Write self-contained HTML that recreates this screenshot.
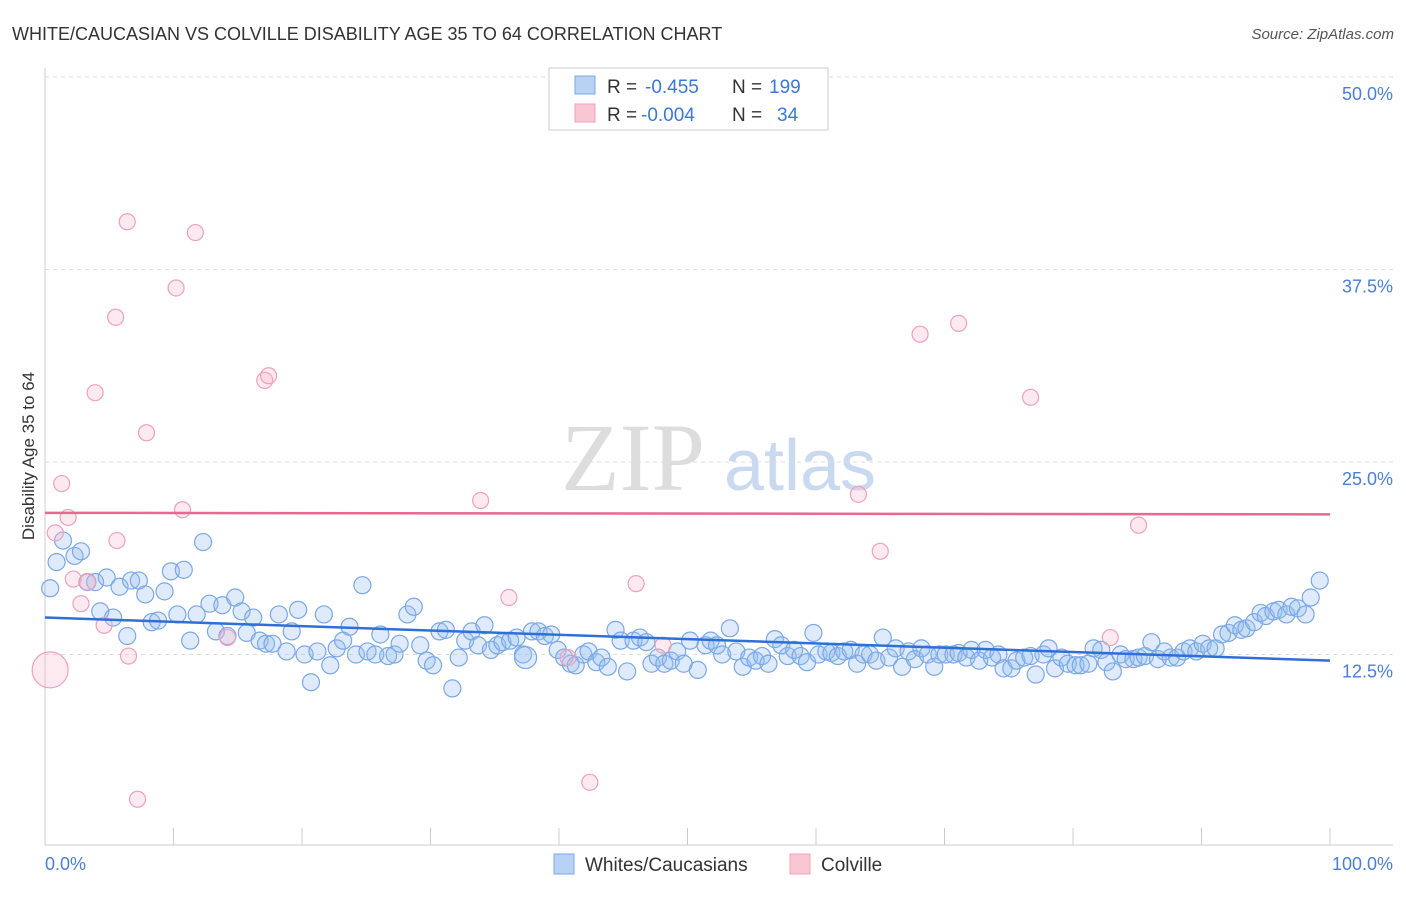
<!DOCTYPE html>
<html><head><meta charset="utf-8"><style>
body{margin:0;background:#fff;font-family:"Liberation Sans",sans-serif}
svg text{font-family:"Liberation Sans",sans-serif}
</style></head><body>
<svg id="chart" width="1406" height="892" xmlns="http://www.w3.org/2000/svg">
<text x="12" y="40" font-size="18" fill="#333">WHITE/CAUCASIAN VS COLVILLE DISABILITY AGE 35 TO 64 CORRELATION CHART</text>
<text x="1394" y="39" font-size="15" fill="#555" text-anchor="end" font-style="italic">Source: ZipAtlas.com</text>
<g>
<text x="633" y="490" font-size="96" fill="#ddd" text-anchor="middle" font-family="Liberation Serif" style="font-family:'Liberation Serif',serif">ZIP</text>
<text x="800" y="490" font-size="72" fill="#c9daf0" text-anchor="middle">atlas</text>
</g>
<g id="grid"></g>
<line x1="45" y1="68" x2="45" y2="845" stroke="#ccc"/>
<line x1="45" y1="845" x2="1393" y2="845" stroke="#ccc"/>
<g id="xticks"></g>
<text x="45" y="870" font-size="18" fill="#4a7fd4">0.0%</text>
<text x="1393" y="870" font-size="18" fill="#4a7fd4" text-anchor="end">100.0%</text>
<text transform="translate(34,456) rotate(-90)" font-size="17" fill="#333" text-anchor="middle">Disability Age 35 to 64</text>
<g id="pts"></g>
<g id="trends"></g>
<g>
<rect x="549" y="68" width="279" height="62" fill="#fff" stroke="#ccc"/>
<rect x="575" y="76" width="20" height="18" fill="#b8d2f5" stroke="#7aa8e6"/>
<rect x="575" y="104" width="20" height="18" fill="#f9c6d4" stroke="#f0a0b8"/>
<text x="607" y="93" font-size="19" fill="#333">R = <tspan x="645" fill="#3a78d8">-0.455</tspan><tspan x="732">N = </tspan><tspan x="769" fill="#3a78d8">199</tspan></text>
<text x="607" y="121" font-size="19" fill="#333">R = <tspan x="641" fill="#3a78d8">-0.004</tspan><tspan x="732">N = </tspan><tspan x="777" fill="#3a78d8">34</tspan></text>
</g>
<g>
<rect x="554" y="854" width="20" height="20" fill="#b8d2f5" stroke="#7aa8e6"/>
<text x="585" y="871" font-size="19" fill="#333">Whites/Caucasians</text>
<rect x="790" y="854" width="20" height="20" fill="#f9c6d4" stroke="#f0a0b8"/>
<text x="821" y="871" font-size="19" fill="#333">Colville</text>
</g>
</svg>
<script>
const yTicks=[12.5,25,37.5,50];
const yTickLabels=["12.5%","25.0%","37.5%","50.0%"];
const xTicks=[0,10,20,30,40,50,60,70,80,90,100];
const blueX=[0.4,0.9,1.4,2.3,2.8,3.3,3.9,4.3,4.8,5.3,5.8,6.4,6.7,7.3,7.8,8.3,8.8,9.3,9.8,10.3,10.8,11.3,11.8,12.3,12.8,13.3,13.8,14.2,14.8,15.3,15.7,16.2,16.7,17.2,17.7,18.2,18.8,19.2,19.7,20.2,20.7,21.2,21.7,22.2,22.7,23.2,23.7,24.2,24.7,25.1,25.7,26.1,26.7,27.2,27.6,28.2,28.7,29.2,29.7,30.2,30.7,31.2,31.7,32.2,32.7,33.2,33.7,34.2,34.7,35.2,35.6,36.2,36.7,37.2,37.4,37.9,38.4,38.9,39.4,39.9,40.4,40.9,41.3,41.9,42.3,42.9,43.3,43.8,44.4,44.8,45.3,45.8,46.3,46.8,47.2,47.7,48.2,48.7,49.2,49.7,50.2,50.8,51.4,51.8,52.3,52.7,53.3,53.8,54.3,54.8,55.3,55.8,56.3,56.8,57.3,57.8,58.3,58.8,59.3,59.8,60.2,60.8,61.2,61.7,62.2,62.7,63.2,63.7,64.2,64.7,65.2,65.7,66.2,66.7,67.2,67.7,68.2,68.7,69.2,69.6,70.1,70.7,71.1,71.7,72.1,72.7,73.2,73.7,74.2,74.6,75.2,75.6,76.2,76.7,77.1,77.7,78.1,78.6,79.1,79.6,80.2,80.6,81.2,81.6,82.2,82.6,83.1,83.7,84.1,84.7,85.1,85.6,86.1,86.6,87.1,87.6,88.1,88.6,89.1,89.6,90.1,90.6,91.1,91.6,92.1,92.6,93.1,93.5,94.1,94.6,95.0,95.6,96.0,96.6,97.0,97.5,98.1,98.5,99.2];
const blueY=[16.8,18.5,19.9,18.9,19.2,17.2,17.2,15.3,17.5,14.9,16.9,13.7,17.3,17.3,16.4,14.6,14.7,16.6,17.9,15.1,18.0,13.4,15.1,19.8,15.8,14.0,15.7,13.7,16.2,15.3,13.9,14.9,13.4,13.2,13.2,15.1,12.7,14.0,15.4,12.5,10.7,12.7,15.1,11.8,12.9,13.4,14.3,12.5,17.0,12.7,12.5,13.8,12.4,12.5,13.2,15.1,15.6,13.1,12.1,11.8,14.0,14.1,10.3,12.3,13.4,14.0,13.1,14.4,12.8,13.1,13.3,13.4,13.6,12.5,12.3,14.0,14.0,13.7,13.8,12.8,12.3,11.9,11.8,12.5,12.7,12.0,12.3,11.7,14.1,13.4,11.4,13.4,13.6,13.3,11.9,12.3,11.9,12.1,12.7,11.9,13.4,11.5,13.1,13.4,13.1,12.5,14.2,12.7,11.7,12.3,12.1,12.4,11.9,13.5,13.1,12.4,12.8,12.4,12.0,13.9,12.5,12.7,12.6,12.4,12.7,12.8,11.9,12.5,12.5,12.1,13.6,12.3,12.9,11.7,12.7,12.2,12.9,12.5,11.7,12.5,12.5,12.5,12.6,12.3,12.8,12.1,12.8,12.3,12.5,11.6,11.6,12.1,12.3,12.4,11.2,12.5,12.9,11.6,12.3,11.9,11.8,11.8,11.9,12.9,12.8,12.0,11.4,12.5,12.2,12.2,12.3,12.4,13.3,12.2,12.7,12.3,12.3,12.7,12.9,12.7,13.2,12.9,12.9,13.8,13.9,14.4,14.1,14.2,14.6,15.2,15.0,15.3,15.4,15.1,15.6,15.5,15.1,16.2,17.3];
const pinkX=[0.4,0.8,1.3,1.8,2.2,2.8,3.3,3.9,4.6,5.5,5.6,6.4,6.5,7.2,7.9,10.2,10.7,11.7,14.2,17.1,17.4,33.9,36.1,40.7,42.4,46.0,48.1,63.3,65.0,68.1,71.1,76.7,82.9,85.1];
const pinkY=[11.5,20.4,23.6,21.4,17.4,15.8,17.2,29.5,14.4,34.4,19.9,40.6,12.4,3.1,26.9,36.3,21.9,39.9,13.6,30.3,30.6,22.5,16.2,12.3,4.2,17.1,13.1,22.9,19.2,33.3,34.0,29.2,13.6,20.9];
const blueTrend=[14.9,12.1];
const pinkTrend=[21.7,21.6];
const NS="http://www.w3.org/2000/svg";
const X=v=>45+v*12.85, Y=v=>847-v*15.4;
function mk(t,a,p){const e=document.createElementNS(NS,t);for(const k in a)e.setAttribute(k,a[k]);p.appendChild(e);return e;}
const grid=document.getElementById('grid');
yTicks.forEach((t,i)=>{
 const l=mk('line',{x1:45,x2:1393,y1:Y(t),y2:Y(t),stroke:'#ddd','stroke-dasharray':'4,4'},grid);
 
 
 const tx=mk('text',{x:1393,y:Y(t)+23,'font-size':18,fill:'#4a7fd4','text-anchor':'end'},grid);
 tx.textContent=yTickLabels[i];
 
 
});
const xt=document.getElementById('xticks');
xTicks.forEach(t=>{
 const l=mk('line',{x1:X(t),x2:X(t),y1:828,y2:845,stroke:'#ccc'},xt);
 
 
});
const pts=document.getElementById('pts');
blueX.forEach((x,i)=>{
 const c=mk('circle',{cx:X(x),cy:Y(blueY[i]),r:(i==74?11:8.5),fill:'rgba(150,190,240,0.3)',stroke:'#7aa8e6','stroke-width':1.2},pts);
 
 
});
pinkX.forEach((x,i)=>{
 const c=mk('circle',{cx:X(x),cy:Y(pinkY[i]),r:(i==0?18:8),fill:'rgba(248,185,205,0.3)',stroke:'#f0a0b8','stroke-width':1.2},pts);
 
 
});
const tr=document.getElementById('trends');
const bl=mk('line',{x1:X(0),y1:Y(blueTrend[0]),x2:X(100),y2:Y(blueTrend[1]),stroke:'#2e6fd8','stroke-width':2.5},tr);


const pl=mk('line',{x1:X(0),y1:Y(pinkTrend[0]),x2:X(100),y2:Y(pinkTrend[1]),stroke:'#e8688e','stroke-width':2.5},tr);


</script>
</body></html>
